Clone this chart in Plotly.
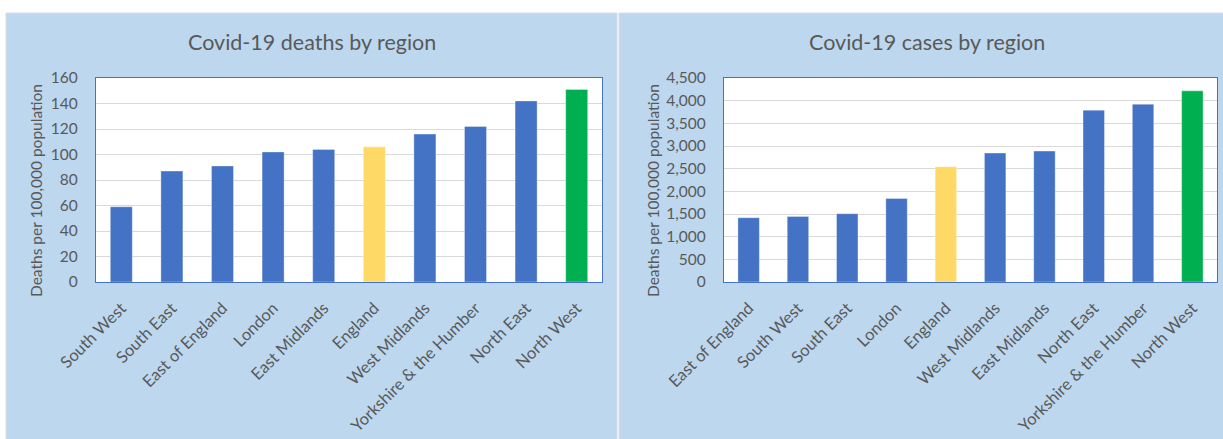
import plotly.graph_objects as go

W, H = 1223, 439

# ---------------- data ----------------
deaths_regions = ["South West", "South East", "East of England", "London", "East Midlands",
                  "England", "West Midlands", "Yorkshire & the Humber", "North East", "North West"]
deaths_values = [59, 87, 91, 102, 104, 106, 116, 122, 142, 151]

cases_regions = ["East of England", "South West", "South East", "London", "England",
                 "West Midlands", "East Midlands", "North East", "Yorkshire & the Humber", "North West"]
cases_values = [1418, 1447, 1507, 1844, 2542, 2844, 2888, 3791, 3923, 4216]

deaths_ticks = [0, 20, 40, 60, 80, 100, 120, 140, 160]
cases_ticks = [0, 500, 1000, 1500, 2000, 2500, 3000, 3500, 4000, 4500]

titles = ["Covid-19 deaths by region", "Covid-19 cases by region"]
y_title = "Deaths per 100,000 population"

# ---------------- styles ----------------
BLUE, YELLOW, GREEN = "#4472C4", "#FFD966", "#00B050"
PANEL = "#BDD7EE"
TXT = "#595959"
FONT = "Lato"


def colour(r):
    if r == "England":
        return YELLOW
    if r == "North West":
        return GREEN
    return BLUE


def px(x):
    return x / W


def py(y):
    return 1 - y / H


fig = go.Figure()
fig.add_trace(go.Bar(x=deaths_regions, y=deaths_values, xaxis="x", yaxis="y",
                     marker=dict(color=[colour(r) for r in deaths_regions],
                                 line=dict(color="rgba(255,255,255,0.35)", width=1)),
                     showlegend=False, hoverinfo="x+y"))
fig.add_trace(go.Bar(x=cases_regions, y=cases_values, xaxis="x2", yaxis="y2",
                     marker=dict(color=[colour(r) for r in cases_regions],
                                 line=dict(color="rgba(255,255,255,0.35)", width=1)),
                     showlegend=False, hoverinfo="x+y"))

L = (96, 602)
R = (724, 1217)
TOP, BOT = 78, 282

common_x = dict(tickangle=-45, showgrid=False, zeroline=False, showline=True, mirror=True,
                linecolor=BLUE, linewidth=1.3, ticks="outside", ticklen=0, automargin=False,
                tickfont=dict(family=FONT, size=16.5, color=TXT), ticklabelstandoff=9)
common_y = dict(showgrid=True, gridcolor="#D9D9D9", gridwidth=1.3, zeroline=False,
                showline=True, mirror=True, linecolor=BLUE, linewidth=1.3, automargin=False,
                ticks="outside", ticklen=0, ticklabelstandoff=14,
                tickfont=dict(family=FONT, size=15.5, color=TXT))

fig.update_layout(
    width=W, height=H,
    margin=dict(l=0, r=0, t=0, b=0, autoexpand=False),
    paper_bgcolor="white",
    plot_bgcolor="rgba(0,0,0,0)",
    bargap=0.565,
    xaxis=dict(domain=[px(L[0]), px(L[1])], anchor="y", **common_x),
    yaxis=dict(domain=[py(BOT), py(TOP)], anchor="x", range=[0, 160],
               tickvals=deaths_ticks, **common_y),
    xaxis2=dict(domain=[px(R[0]), px(R[1])], anchor="y2", **common_x),
    yaxis2=dict(domain=[py(BOT), py(TOP)], anchor="x2", range=[0, 4500],
                tickvals=cases_ticks, tickformat=",", **common_y),
)

shapes = [
    dict(type="rect", xref="paper", yref="paper", x0=px(6), x1=px(617), y0=py(440), y1=py(13),
         fillcolor=PANEL, line=dict(color="#D6DCE4", width=1), layer="below"),
    dict(type="rect", xref="paper", yref="paper", x0=px(619), x1=px(1224), y0=py(440), y1=py(13),
         fillcolor=PANEL, line=dict(color="#D6DCE4", width=1), layer="below"),
    dict(type="rect", xref="paper", yref="paper", x0=px(L[0]), x1=px(L[1]), y0=py(BOT), y1=py(TOP),
         fillcolor="white", line=dict(width=0), layer="below"),
    dict(type="rect", xref="paper", yref="paper", x0=px(R[0]), x1=px(R[1]), y0=py(BOT), y1=py(TOP),
         fillcolor="white", line=dict(width=0), layer="below"),
]
fig.update_layout(shapes=shapes)

ann = [
    dict(text=titles[0], x=px(312), y=py(42), xref="paper", yref="paper", showarrow=False,
         xanchor="center", yanchor="middle", font=dict(family=FONT, size=21.5, color=TXT)),
    dict(text=titles[1], x=px(927), y=py(42), xref="paper", yref="paper", showarrow=False,
         xanchor="center", yanchor="middle", font=dict(family=FONT, size=21.5, color=TXT)),
    dict(text=y_title, x=px(36), y=py(191), xref="paper", yref="paper", showarrow=False,
         textangle=-90, xanchor="center", yanchor="middle", font=dict(family=FONT, size=15.5, color=TXT)),
    dict(text=y_title, x=px(653), y=py(191), xref="paper", yref="paper", showarrow=False,
         textangle=-90, xanchor="center", yanchor="middle", font=dict(family=FONT, size=15.5, color=TXT)),
]
fig.update_layout(annotations=ann)

fig.write_html("out.html")
